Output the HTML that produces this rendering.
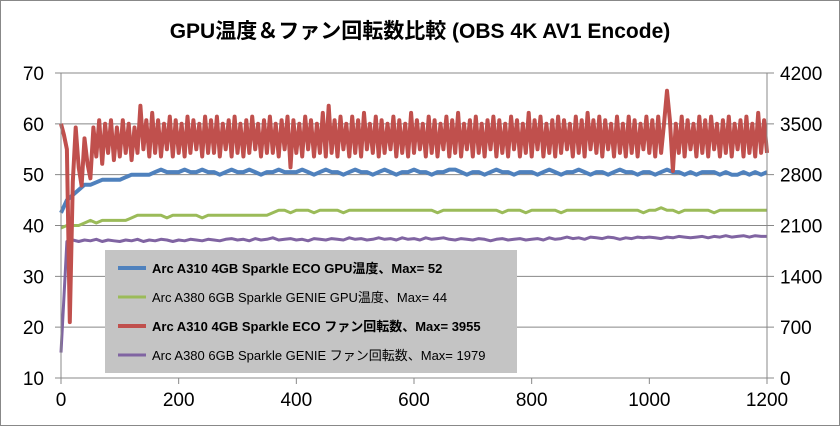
<!DOCTYPE html>
<html><head><meta charset="utf-8"><style>
body{margin:0;background:#fff;}
#c{width:840px;height:426px;position:relative;font-family:"Liberation Sans","Noto Sans CJK JP",sans-serif;}
</style></head><body>
<div id="c">
<svg id="s" width="840" height="426" xmlns="http://www.w3.org/2000/svg">
<rect x="0.5" y="0.5" width="839" height="425" fill="#fff" stroke="#888"/>
<text x="420" y="38" text-anchor="middle" font-size="21" font-weight="bold" font-family="Liberation Sans, Noto Sans CJK JP, sans-serif">GPU温度＆ファン回転数比較 (OBS 4K AV1 Encode)</text>
<g id="grid"></g><g id="series"></g><g id="axes"></g>
<g>
<rect x="105" y="250" width="412" height="123" fill="#c4c4c4"/>
<g id="leg"></g>
</g>
</svg>
</div>
<script>
const leftTicks=[10,20,30,40,50,60,70];
const rightTicks=[0,700,1400,2100,2800,3500,4200];
const xTicks=[0,200,400,600,800,1000,1200];
const blueT=[42.5,45,46,47,48,48,48.5,49,49,49,49,49.5,50,50,50,50,50.5,51,50.5,50.5,
50.5,51,50.5,50.5,51,50.5,50.5,50,50.5,51,50.5,50.5,51,50.5,50,50.5,50.5,51,50.5,50.5,
50.5,51,50.5,50,50.5,51,50.5,50.5,50,50.5,51,50.5,50.5,50,50.5,51,50.5,50,50.5,50.5,
51,50.5,50.5,50,50.5,50.5,51,51,50.5,50,50.5,50.5,50,50.5,51,50.5,50.5,50,50.5,50.5,
50.5,50,50.5,51,50.5,50,50.5,50.5,51,50.5,50,50.5,50.5,50,50.5,51,50.5,50.5,50,50.5,
50.5,50,50.5,51,50.5,50.5,50,50.5,50,50.5,50.5,50.5,50,50.5,50,50,50.5,50,50.5,50,50.5];
const greenT=[39.5,40,40,40,40.5,41,40.5,41,41,41,41,41,41.5,42,42,42,42,42,41.5,42,
42,42,42,42,41.5,42,42,42,42,42,42,42,42,42,42,42,42.5,43,43,42.5,43,43,43,42.5,43,43,43,43,42.5,43,
43,43,43,43,43,43,43,43,43,43,43,43,43,43,42.5,43,43,43,43,43,43,43,43,43,43,42.5,43,43,43,42.5,
43,43,43,43,43,42.5,43,43,43,43,43,43,43,43,43,43,43,43,43,42.5,43,43,43.5,43,43,42.5,43,43,43,43,
43,42.5,43,43,43,43,43,43,43,43,43];
const purpleR=[350,1880,1900,1880,1900,1890,1910,1880,1900,1890,1880,1900,1890,1910,1880,1900,1890,1910,1900,1880,
1900,1890,1910,1900,1890,1910,1900,1890,1910,1920,1900,1910,1890,1920,1900,1910,1930,1900,1910,1920,
1900,1910,1890,1920,1910,1900,1920,1910,1900,1930,1910,1920,1900,1910,1930,1910,1920,1900,1930,1910,
1920,1900,1930,1910,1920,1930,1910,1900,1920,1910,1900,1920,1910,1890,1910,1920,1900,1910,1920,1900,
1910,1920,1900,1930,1910,1920,1940,1920,1930,1910,1940,1930,1920,1940,1930,1910,1930,1920,1940,1930,
1940,1930,1920,1940,1930,1950,1940,1930,1940,1950,1930,1950,1940,1960,1940,1950,1960,1940,1960,1950,1950];
const redR=[3500,3350,3150,770,2700,3450,2900,2650,3300,2950,2750,
3450,3050,3550,2950,3500,3100,3550,3000,3450,3050,3550,3100,3500,3000,3450,3100,3750,3150,3550,3050,
3650,3100,3550,3050,3500,3150,3600,3050,3550,3100,3500,3050,3600,3100,3550,3150,3500,3050,3600,3100,
3550,3100,3600,3050,3500,3150,3550,3050,3600,3100,3500,3050,3550,3100,3600,3150,3500,3050,3550,3100,
3600,3100,3500,3050,3550,3150,3600,2900,3550,3100,3500,3050,3600,3150,3550,3050,3500,3100,3650,3050,
3750,3100,3550,3050,3600,3150,3500,3050,3600,3100,3550,3050,3650,3150,3500,3100,3600,3050,3550,3100,
3500,3150,3600,3050,3550,3100,3500,3050,3650,3100,3550,3150,3500,3050,3600,3100,3550,3050,3500,3150,
3600,3050,3550,3100,3650,3050,3500,3150,3550,3050,3600,3100,3500,3050,3550,3150,3600,3050,3550,3100,
3500,3050,3600,3150,3550,3050,3500,3100,3650,3050,3550,3150,3600,3050,3500,3100,3550,3050,3600,3100,
3550,3150,3500,3050,3600,3100,3550,3050,3650,3150,
3550,3100,3600,3050,3550,3150,3500,3050,3600,3100,
3500,3050,3600,3100,3550,3050,3500,3150,3600,3100,
3550,3050,3600,3100,3500,3955,3550,2850,3500,3100,3600,3050,3550,3150,3500,3050,3600,3100,3550,3050,
3600,3150,3500,3050,3550,3100,3600,3050,3500,3150,3550,3050,3600,3100,3500,3050,3650,3100,3550,3100];
const legendLabels=["Arc A310 4GB Sparkle ECO GPU温度、Max= 52","Arc A380 6GB Sparkle GENIE GPU温度、Max= 44","Arc A310 4GB Sparkle ECO ファン回転数、Max= 3955","Arc A380 6GB Sparkle GENIE ファン回転数、Max= 1979"];
const NS="http://www.w3.org/2000/svg";
const X0=61,X1=767,Y0=378,Y1=73;
const xs=t=>X0+(t/1200)*(X1-X0);
const yl=v=>Y0-(v-10)/60*(Y0-Y1);
const yr=v=>Y0-v/4200*(Y0-Y1);
function mk(tag,attrs,parent){const e=document.createElementNS(NS,tag);for(const k in attrs)e.setAttribute(k,attrs[k]);parent.appendChild(e);return e;}
const grid=document.getElementById('grid'),axes=document.getElementById('axes'),ser=document.getElementById('series');
leftTicks.forEach((v,i)=>{const y=yl(v);
 const g=mk('line',{x1:55,x2:774,y1:y,y2:y,stroke:'#888','stroke-width':1},grid);
 
 const t=mk('text',{x:44,y:y+7,'text-anchor':'end','font-size':19},axes);t.textContent=v;
 
 const r=mk('text',{x:780,y:y+7,'font-size':19},axes);r.textContent=rightTicks[i];
 
});
xTicks.forEach(v=>{const x=xs(v);
 const l=mk('line',{x1:x,x2:x,y1:Y0,y2:Y0+6,stroke:'#888'},axes);
 
 const t=mk('text',{x:x,y:406,'text-anchor':'middle','font-size':19},axes);t.textContent=v;
 
});
[X0,X1].forEach(x=>{const a=mk('line',{x1:x,x2:x,y1:Y1,y2:Y0,stroke:'#888'},axes);});
function line(arr,step,yf,color,w,name){
 const pts=arr.map((v,i)=>xs(i*step).toFixed(1)+','+yf(v).toFixed(1)).join(' ');
 const p=mk('polyline',{points:pts,fill:'none',stroke:color,'stroke-width':w,'stroke-linejoin':'round'},ser);
 
}
line(purpleR,10,yr,'#8064a2',3,'series-a380-fan');
line(greenT,10,yl,'#9bbb59',3,'series-a380-temp');
line(blueT,10,yl,'#4f81bd',4,'series-a310-temp');
line(redR,5,yr,'#c0504d',4,'series-a310-fan');
const leg=document.getElementById('leg');
const lc=['#4f81bd','#9bbb59','#c0504d','#8064a2'],lw=[4,3,4,3],bold=[1,0,1,0];
legendLabels.forEach((s,i)=>{const y=268+i*29;
 const l=mk('line',{x1:118,x2:146,y1:y,y2:y,stroke:lc[i],'stroke-width':lw[i]},leg);
 
 const t=mk('text',{x:152,y:y+5,'font-size':13,'font-weight':bold[i]?'bold':'normal'},leg);t.textContent=s;
 
});
</script>
</body></html>
